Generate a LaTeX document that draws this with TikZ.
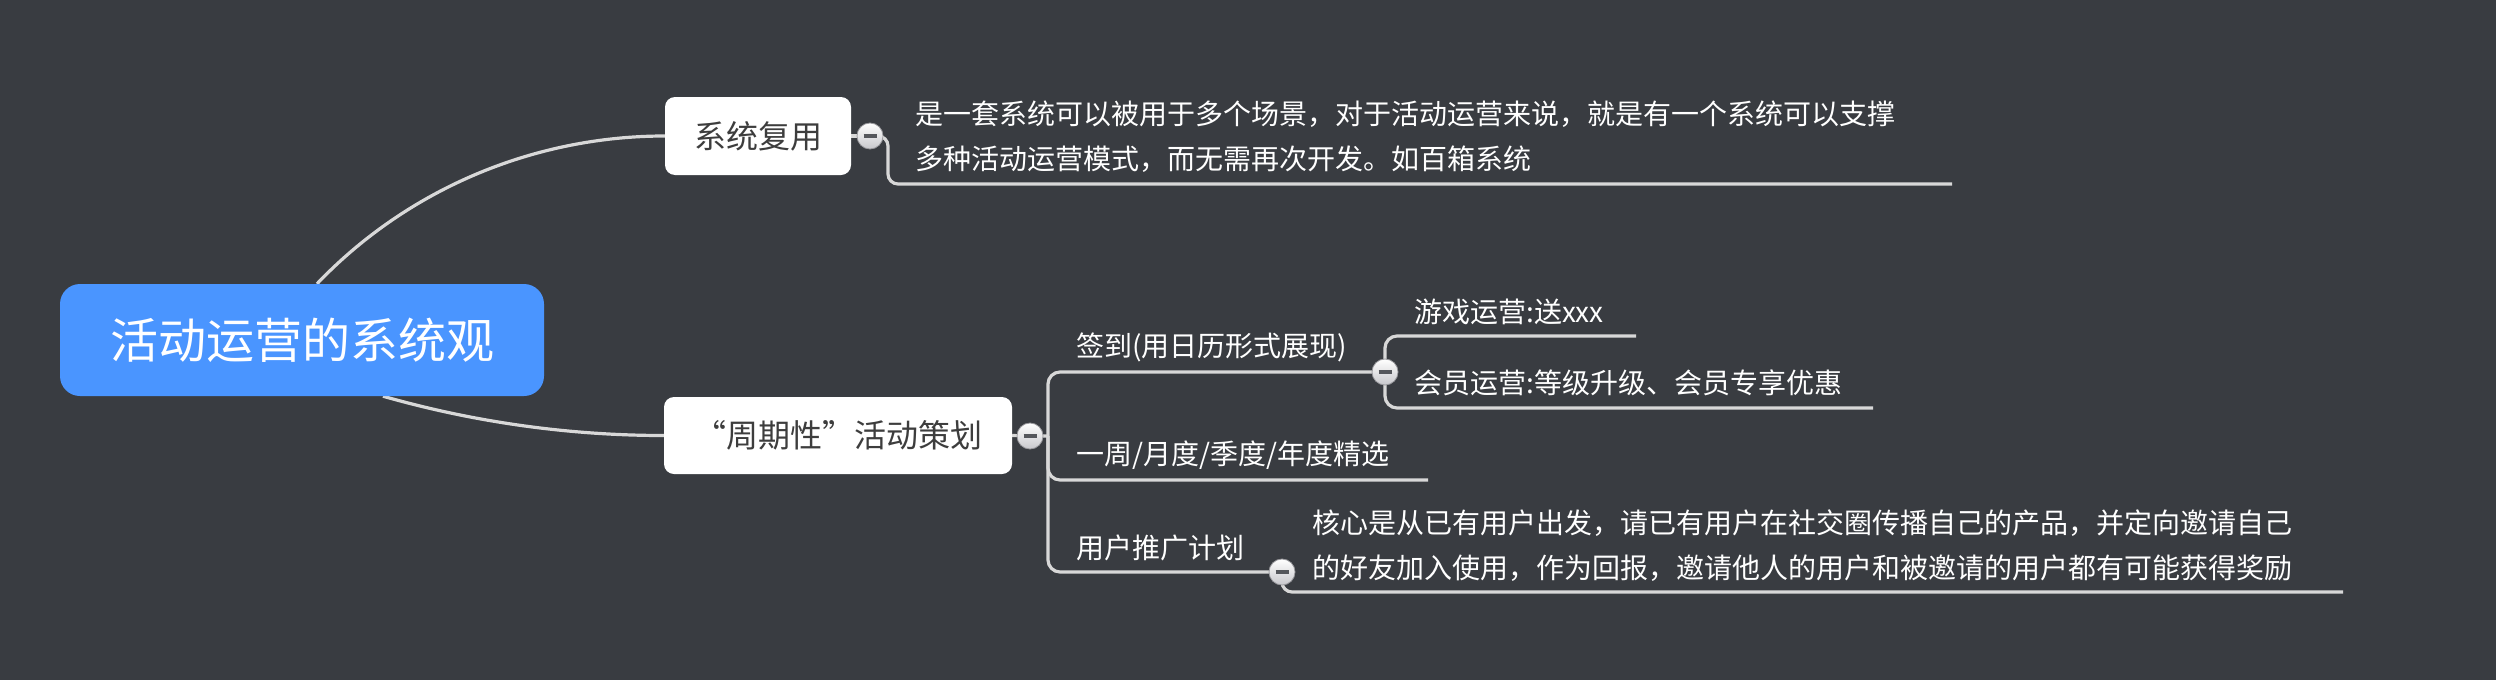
\documentclass[tikz,border=0pt]{standalone}
\usepackage{fontspec}
\setmainfont{Noto Sans CJK SC}
\usetikzlibrary{backgrounds}
\definecolor{bgcol}{HTML}{393C41}
\definecolor{rootblue}{HTML}{4A95FF}
\definecolor{linecol}{HTML}{D8D8D8}
\definecolor{topictext}{HTML}{3D3D3D}
\definecolor{foldgray}{HTML}{C8C8CC}
\definecolor{foldedge}{HTML}{9A9A9E}
\definecolor{folddash}{HTML}{55575C}
\tikzset{
  conn/.style={draw=linecol, line width=3.2pt},
  roottopic/.style={fill=rootblue, rounded corners=20pt, minimum width=484pt, minimum height=112pt,
    text=white, font=\fontsize{48}{56}\selectfont, inner sep=0pt},
  maintopic/.style={fill=white, rounded corners=10pt, minimum height=78pt,
    text=topictext, font=\fontsize{32}{38}\selectfont, inner sep=0pt},
  subtext/.style={text=white, font=\fontsize{28}{45}\selectfont, anchor=west, inner sep=0pt, align=left},
  fold/.style={circle, minimum size=26pt, inner sep=0pt, top color=white, bottom color=foldgray,
    draw=foldedge, line width=0.8pt,
    path picture={\draw[folddash, line width=3.5pt]
      ([xshift=-6.5pt]path picture bounding box.center) -- ([xshift=6.5pt]path picture bounding box.center);}}
}
\begin{document}
\begin{tikzpicture}[x=1pt,y=1pt]
\begin{scope}[on background layer]
\fill[bgcol] (0,0) rectangle (2496,-680);
\end{scope}
\useasboundingbox (0,0) rectangle (2496,-680);

% topics
\node[roottopic] (root) at (302,-340) {活动运营的系统观};
\node[maintopic, minimum width=186pt] (sys) at (758,-136) {系统复用};
\node[maintopic, minimum width=348pt, minimum height=77pt] (cyc) at (838,-435.5) {“周期性”活动策划};

% fold buttons
\node[fold] (f1) at (870,-136) {};
\node[fold] (f2) at (1030,-436) {};
\node[fold] (f3) at (1385,-372) {};
\node[fold] (f5) at (1282,-572) {};

% texts
\node[subtext] (d1) at (915,-136.5) {是一套系统可以被用于多个场景，对于活动运营来说，就是有一个系统可以支撑\\多种活动运营模式，而无需再次开发。如百箱系统};
\node[subtext] (qd) at (1076,-347) {签到(用日历形式展现)};
\node[subtext] (game) at (1414,-312) {游戏运营:送xxx};
\node[subtext] (vip) at (1414,-383) {会员运营:等级升级、会员专享优惠};
\node[subtext] (week) at (1076,-455) {一周/月度/季度/年度精选};
\node[subtext] (promo) at (1076,-548) {用户推广计划};
\node[subtext] (d3) at (1312,-546) {核心是从已有用户出发，请已有用户在社交圈传播自己的产品，并定向邀请自己\\的好友加入使用，作为回报，邀请他人的用户和被邀请的用户都有可能获得奖励};

% underline ends and junctions
\coordinate (u1) at (1952,-184);
\coordinate (bx) at (1048,-436);
\coordinate (ugame) at (1636,-336);
\coordinate (uvip) at (1873,-408);
\coordinate (uweek) at (1428,-480);
\coordinate (u3) at (2343,-592);

\begin{scope}[on background layer]
\draw[conn] ([xshift=15pt]root.north) .. controls +(46.3:131) and +(180:131) .. (sys.west);
\draw[conn] ([xshift=81pt]root.south) .. controls +(-15.9:95) and +(180:95) .. (cyc.west);
\draw[conn] (sys.east) -- (f1.center);
\draw[conn, rounded corners=10pt] (f1.center) -- ++(18,0) |- (u1);
\draw[conn] (cyc.east) -- (f2.center) -- (bx);
\draw[conn, rounded corners=12pt] (f3.center) -| (bx);
\draw[conn, rounded corners=12pt] (bx) |- (uweek);
\draw[conn, rounded corners=12pt] (bx) |- (f5.center);
\draw[conn, rounded corners=12pt] (f3.center) |- (ugame);
\draw[conn, rounded corners=12pt] (f3.center) |- (uvip);
\draw[conn, rounded corners=10pt] (f5.center) |- (u3);
\end{scope}
\end{tikzpicture}
\end{document}
